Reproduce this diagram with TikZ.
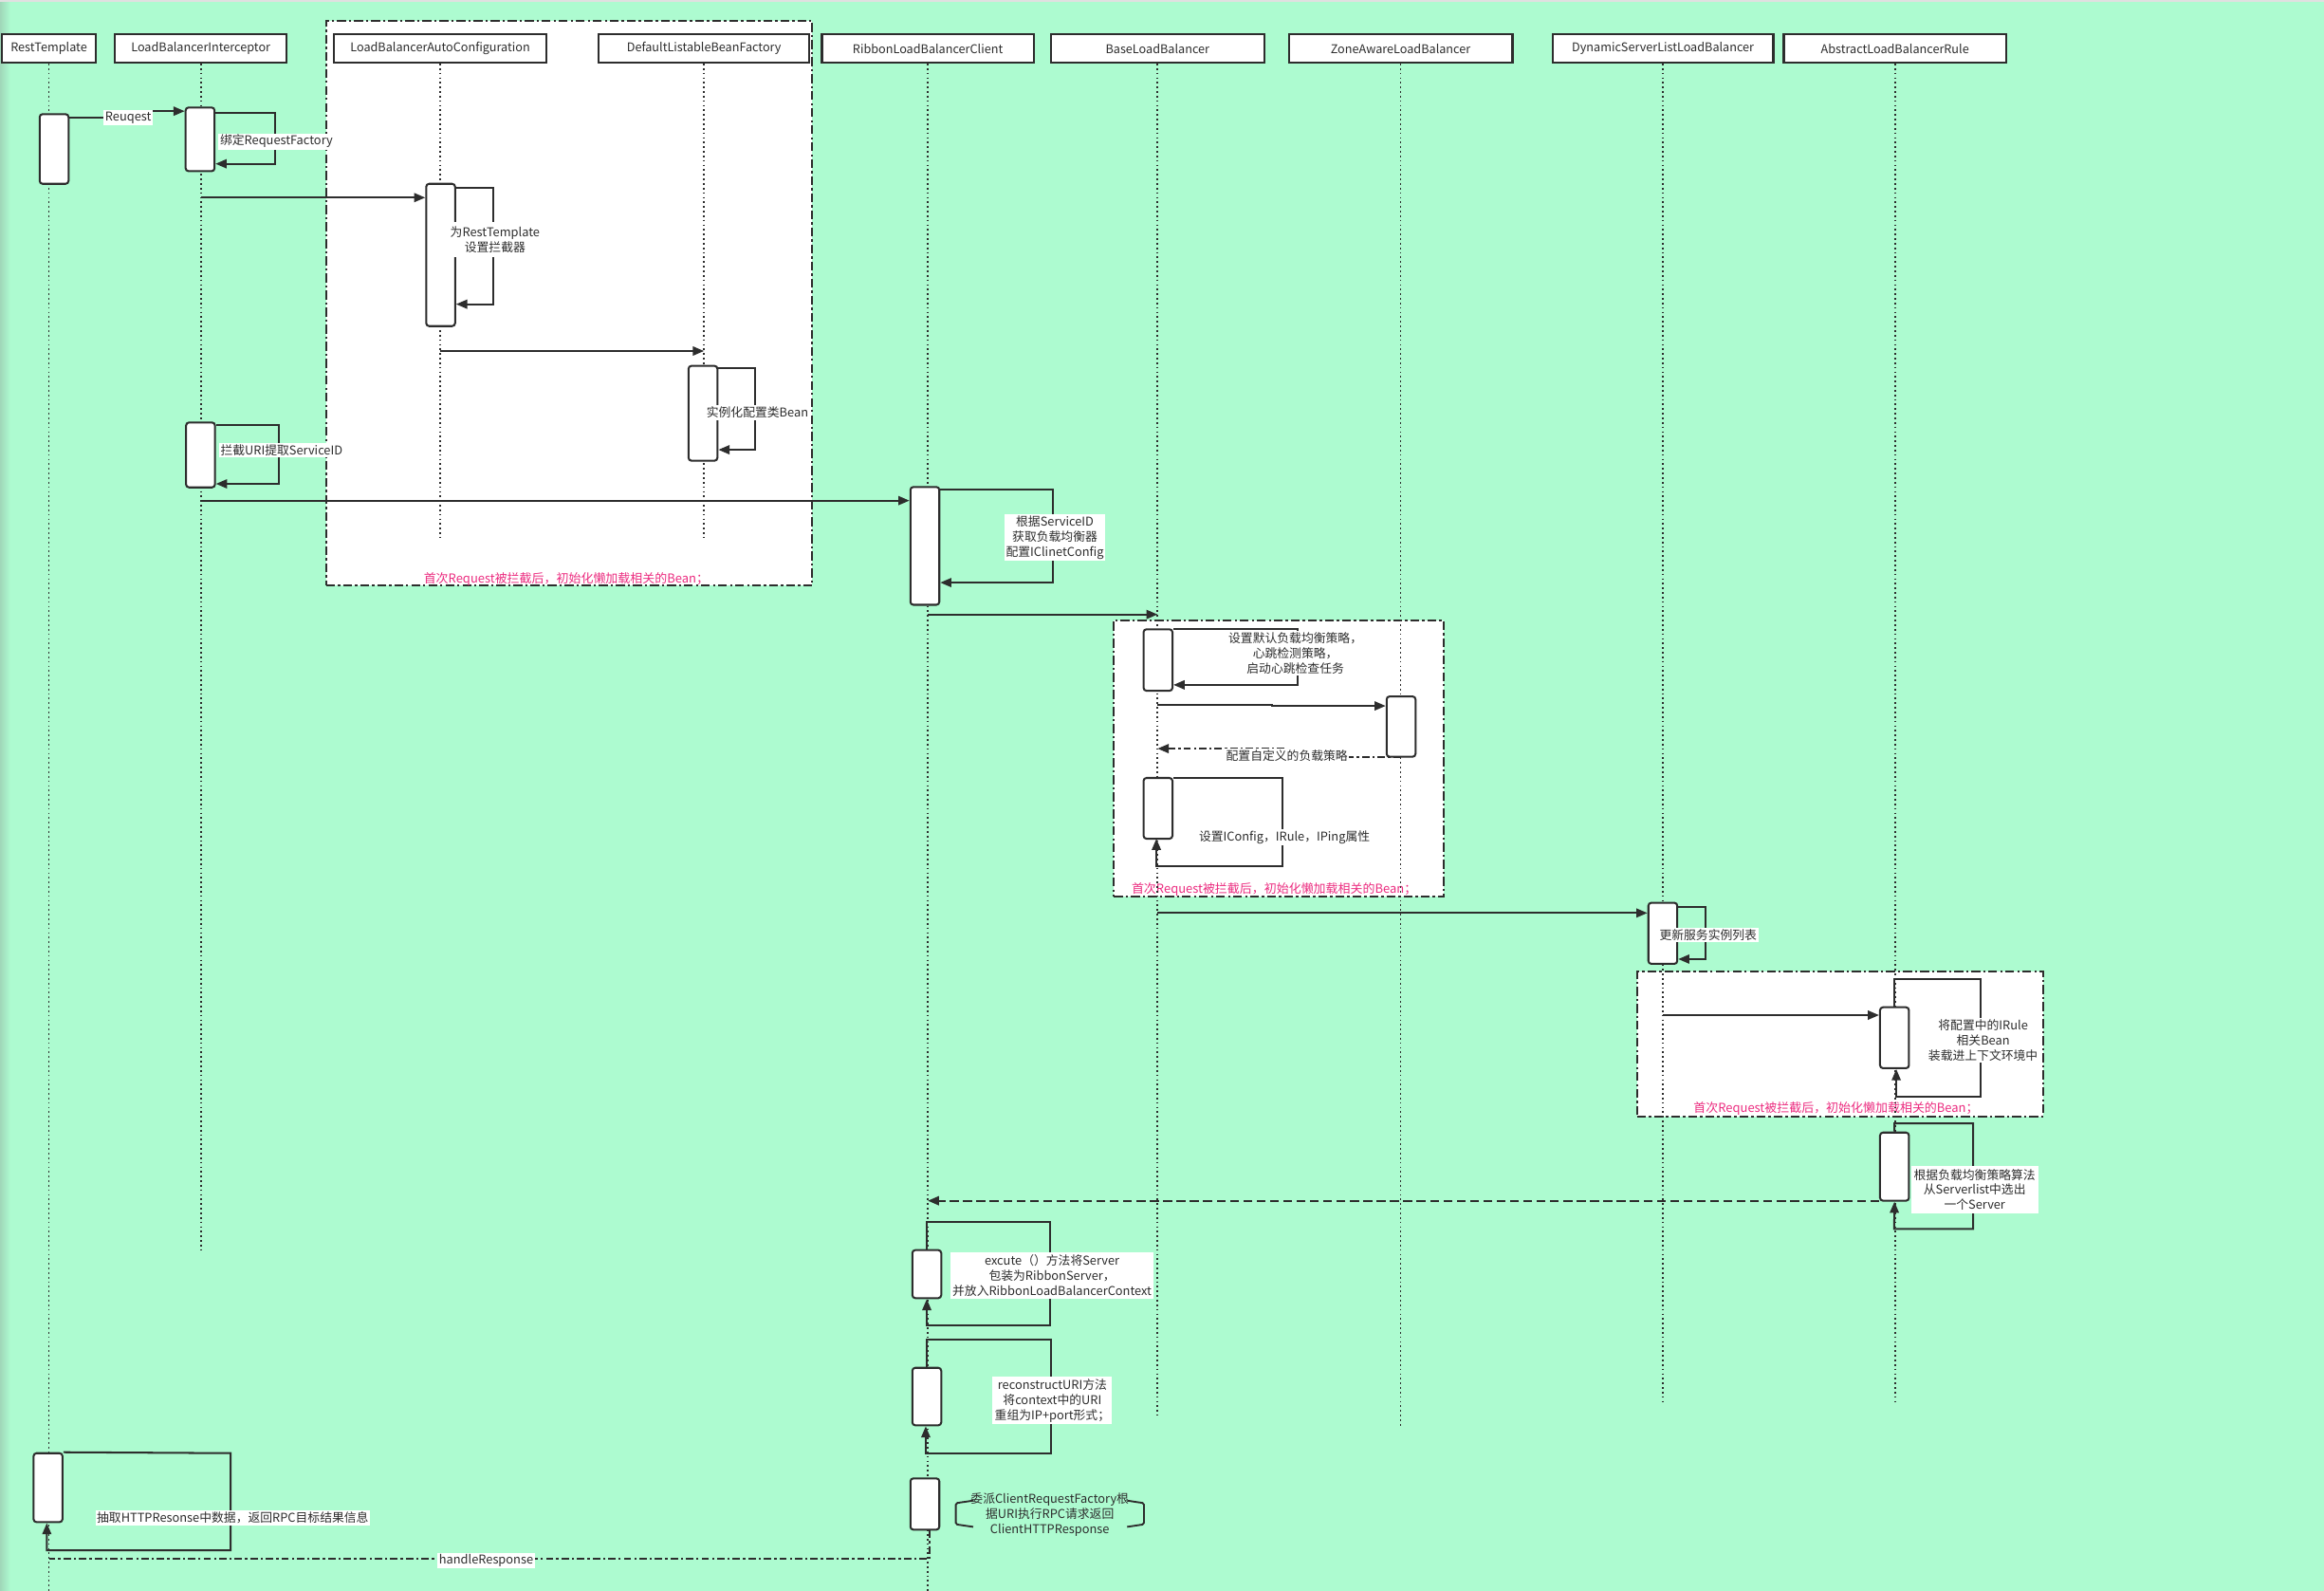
\documentclass[tikz,border=0pt]{standalone}
\usepackage{fontspec}
\setmainfont{Noto Sans CJK SC}
\usetikzlibrary{arrows.meta}
\definecolor{bg}{RGB}{173,251,208}
\definecolor{bgedge}{RGB}{160,215,185}
\definecolor{ink}{RGB}{45,45,45}
\definecolor{pinkt}{RGB}{236,44,128}
\begin{document}
\begin{tikzpicture}[x=1pt,y=-1pt,
  hd/.style={draw=ink,line width=1.4pt,fill=white,minimum height=19pt,inner sep=0pt,font=\fontsize{8.1}{9}\selectfont,text=ink},
  act/.style={draw=ink,line width=1.3pt,fill=white,rounded corners=2pt,minimum width=19.5pt,inner sep=0pt},
  life/.style={draw=ink,line width=1.1pt,dash pattern=on 1.1pt off 2pt},
  msg/.style={draw=ink,line width=1.3pt,-{Triangle[length=7.5pt,width=6pt]}},
  ret/.style={msg,dash pattern=on 6pt off 3pt},
  dd/.style={draw=ink,line width=1.3pt,dash pattern=on 5pt off 2pt on 1.5pt off 2pt},
  grp/.style={draw=ink,line width=1.3pt,fill=white,dash pattern=on 6pt off 2pt on 1.5pt off 2pt},
  lbl/.style={fill=white,inner sep=1pt,align=center,font=\fontsize{8.2}{10.2}\selectfont,text=ink},
  note/.style={inner sep=1pt,align=center,font=\fontsize{8.2}{10.2}\selectfont,text=ink},
  pk/.style={inner sep=0pt,font=\fontsize{8.3}{10}\selectfont,text=pinkt},
  brk/.style={draw=ink,line width=1.2pt,rounded corners=1pt},
]
% background
\fill[bg] (0,0) rectangle (1568,1073);
\shade[left color=bgedge,right color=bg] (0,0) rectangle (7,1073);
\fill[black!12] (0,0) rectangle (1568,1.4);
\useasboundingbox (0,0) rectangle (1568,1073);

% group boxes
\node[grp,minimum width=328pt,minimum height=381pt,inner sep=0pt] (g1) at (384,204.5) {};
\node[grp,minimum width=222.5pt,minimum height=186.5pt,inner sep=0pt] (g2) at (862.75,511.75) {};
\node[grp,minimum width=274pt,minimum height=97.4pt,inner sep=0pt] (g3) at (1241.6,704.3) {};
\node[pk] (p1) at (382,390.8) {首次Request被拦截后，初始化懒加载相关的Bean；};
\node[pk] (p2) at (859.6,600.3) {首次Request被拦截后，初始化懒加载相关的Bean；};
\node[pk] (p3) at (1238.7,747.9) {首次Request被拦截后，初始化懒加载相关的Bean；};

% headers
\node[hd,minimum width=63pt]  (h1) at (33,32.7)    {RestTemplate};
\node[hd,minimum width=116pt] (h2) at (135.5,32.7) {LoadBalancerInterceptor};
\node[hd,minimum width=143pt] (h3) at (297,32.7)   {LoadBalancerAutoConfiguration};
\node[hd,minimum width=142pt] (h4) at (475,32.7)   {DefaultListableBeanFactory};
\node[hd,minimum width=143pt] (h5) at (626,32.7)   {RibbonLoadBalancerClient};
\node[hd,minimum width=144pt] (h6) at (781,32.7)   {BaseLoadBalancer};
\node[hd,minimum width=151pt] (h7) at (945,32.7)   {ZoneAwareLoadBalancer};
\node[hd,minimum width=149pt] (h8) at (1122,32.7)  {DynamicServerListLoadBalancer};
\node[hd,minimum width=150pt] (h9) at (1278.5,32.7){AbstractLoadBalancerRule};

% lifeline ends
\coordinate (e1) at (33,1073);
\coordinate (e2) at (135.5,843);
\coordinate (e3) at (297,363);
\coordinate (e4) at (475,363);
\coordinate (e5) at (626,1073);
\coordinate (e6) at (781,955);
\coordinate (e7) at (945,962);
\coordinate (e8) at (1122,946);
\coordinate (e9) at (1278.5,946);
\foreach \i in {1,...,9} {\draw[life] (h\i.south) -- (e\i);}

% activations
\node[act,minimum height=47pt]   (rt1) at (36.5,100.5) {};
\node[act,minimum height=43pt]   (lb1) at (135,94) {};
\node[act,minimum height=96pt]   (ac1) at (297.3,172) {};
\node[act,minimum height=64pt]   (df1) at (474.3,278.8) {};
\node[act,minimum height=43.8pt] (lb2) at (135.3,306.9) {};
\node[act,minimum height=79.5pt] (rl1) at (624,368.25) {};
\node[act,minimum height=41.5pt] (bl1) at (781.3,445.25) {};
\node[act,minimum height=40.7pt] (za1) at (945.3,490.15) {};
\node[act,minimum height=41pt]   (bl2) at (781.3,545.3) {};
\node[act,minimum height=41.2pt] (ds1) at (1121.9,629.6) {};
\node[act,minimum height=41.1pt] (ar1) at (1278.2,700.05) {};
\node[act,minimum height=46pt]   (ar2) at (1278.2,787) {};
\node[act,minimum height=32.4pt] (rl2) at (625.3,859.5) {};
\node[act,minimum height=38.8pt] (rl3) at (625.3,942.1) {};
\node[act,minimum height=34.6pt] (rl4) at (624,1014.6) {};
\node[act,minimum height=46.5pt] (rt2) at (32.4,1003.55) {};

% messages
\draw[msg] (rt1.east |- 0,79.5) -- (86,79.5) -- (86,75) -- (lb1.west |- 0,75);
\node[lbl] (m1) at (86.5,79.3) {Reuqest};
\draw[msg] (lb1.east |- 0,76.4) -- (185.5,76.4) -- (185.5,110.5) -- (lb1.east |- 0,110.5);
\node[lbl] (l1) at (186.5,95.4) {绑定RequestFactory};

\draw[msg] (h2 |- 0,133.3) -- (ac1.west |- 0,133.3);
\draw[msg] (ac1.east |- 0,126.5) -- (333,126.5) -- (333,205.2) -- (ac1.east |- 0,205.2);
\node[lbl,inner sep=3pt] (l2) at (334,161.6) {为RestTemplate\\设置拦截器};

\draw[msg] (h3 |- 0,236.8) -- (h4 |- 0,236.8);
\draw[msg] (df1.east |- 0,248.5) -- (509.6,248.5) -- (509.6,303.4) -- (df1.east |- 0,303.4);
\node[lbl] (l3) at (511,278.4) {实例化配置类Bean};

\draw[msg] (lb2.east |- 0,286.5) -- (188,286.5) -- (188,326.4) -- (lb2.east |- 0,326.4);
\node[lbl] (l4) at (190,303.6) {拦截URI提取ServiceID};

\draw[msg] (h2 |- 0,337.7) -- (rl1.west |- 0,337.7);
\draw[msg] (rl1.east |- 0,330) -- (710.5,330) -- (710.5,393) -- (rl1.east |- 0,393);
\node[lbl] (l5) at (711.7,362.7) {根据ServiceID\\获取负载均衡器\\配置IClinetConfig};

\draw[msg] (h5 |- 0,414.5) -- (h6 |- 0,414.5);
\draw[msg] (bl1.east |- 0,424.5) -- (875.7,424.5) -- (875.7,462) -- (bl1.east |- 0,462);
\node[lbl] (l6) at (874,440.8) {设置默认负载均衡策略，\\心跳检测策略，\\启动心跳检查任务};

\draw[msg] (h6 |- 0,475.5) -- (858,475.5) -- (858,476.2) -- (za1.west |- 0,476.2);
\draw[msg,dash pattern=on 5pt off 2pt on 1.5pt off 2pt] (h7 |- 0,510.5) -- (868,510.5) -- (868,505) -- (h6 |- 0,505);
\node[lbl] (l7) at (868.3,509.6) {配置自定义的负载策略};

\draw[msg] (bl2.east |- 0,524.8) -- (865,524.8) -- (865,584.5) -- (780.2,584.5) -- (780.2,565.8);
\node[lbl] (l8) at (866.6,565) {设置IConfig，IRule，IPing属性};

\draw[msg] (h6 |- 0,615.9) -- (ds1.west |- 0,615.9);
\draw[msg] (ds1.east |- 0,611.6) -- (1150.5,611.6) -- (1150.5,647) -- (ds1.east |- 0,647);
\node[lbl] (l9) at (1152.5,631) {更新服务实例列表};

\draw[msg] (h8 |- 0,684.8) -- (ar1.west |- 0,684.8);
\draw[msg] (ar1.north) -- (1278.2,660.3) -- (1336,660.3) -- (1336,739.6) -- (1279.4,739.6) -- (ar1.south -| 1279.4,0);
\node[lbl] (l10) at (1338,701.9) {将配置中的IRule\\相关Bean\\装载进上下文环境中};

\draw[msg] (ar2.north) -- (1278.2,757.8) -- (1331.2,757.8) -- (1331.2,829) -- (1278,829) -- (ar2.south);
\node[lbl,inner sep=2pt] (l11) at (1332.3,802.6) {根据负载均衡策略算法\\从Serverlist中选出\\一个Server};

\draw[ret,line width=1.4pt] (ar2.west |- 0,810) -- (h5 |- 0,810);

\draw[msg] (rl2.north) -- (625.3,824) -- (708.3,824) -- (708.3,894.3) -- (625.3,894.3) -- (rl2.south);
\node[lbl,inner sep=1.5pt] (l12) at (709.8,860.6) {excute（）方法将Server\\包装为RibbonServer，\\并放入RibbonLoadBalancerContext};

\draw[msg] (rl3.north) -- (625.3,903.5) -- (709.3,903.5) -- (709.3,980.3) -- (624.6,980.3) -- (rl3.south -| 624.6,0);
\node[lbl,inner sep=1.5pt] (l13) at (710,944.8) {reconstructURI方法\\将context中的URI\\重组为IP+port形式；};

% note with brackets
\node[note] (l14) at (708.3,1021.9) {委派ClientRequestFactory根\\据URI执行RPC请求返回\\ClientHTTPResponse};
\draw[brk] (656.6,1012.3) -- (644.9,1014) -- (644.9,1028.3) -- (656.6,1030);
\draw[brk] (760.5,1012.3) -- (771.8,1014) -- (771.8,1028.3) -- (760.5,1030);

% handleResponse
\coordinate (hr) at (33,1051.7);
\draw[dd] (rl4.south -| 627.2,0) -- (627.2,1051.7) -- (hr);
\node[lbl] (l15) at (328,1052.8) {handleResponse};

% RestTemplate final loop
\draw[msg] (rt2.north east) -- (155.6,980.3) -- (155.6,1045.8) -- (31.6,1045.8) -- (rt2.south -| 31.6,0);
\node[lbl] (l16) at (157,1024) {抽取HTTPResonse中数据，返回RPC目标结果信息};
\end{tikzpicture}
\end{document}
